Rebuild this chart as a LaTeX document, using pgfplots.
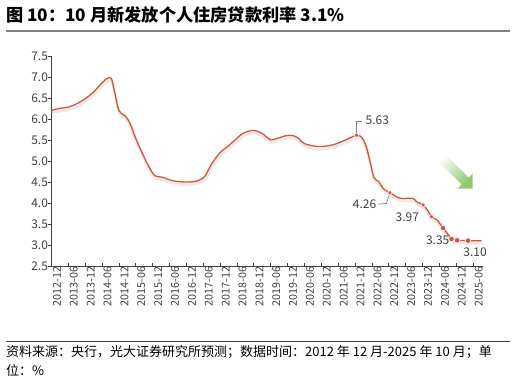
\documentclass[border=0pt]{standalone}
\usepackage{fontspec}
\setmainfont{Noto Sans CJK SC}
\usepackage{pgfplots}
\pgfplotsset{compat=1.18}
\definecolor{lineRed}{RGB}{217,84,56}
\definecolor{arrowGreen}{RGB}{140,200,110}
\definecolor{txtGray}{RGB}{64,64,64}
\begin{document}
\begin{tikzpicture}
\path[use as bounding box] (0,0) rectangle (516bp,-381bp);
% title
\node[anchor=west, font=\fontsize{17.2bp}{20bp}\selectfont\bfseries, inner sep=0pt] at (6bp,-15bp) {图 10：10 月新发放个人住房贷款利率 3.1\%};
\draw[black!50, line width=1.5bp] (6bp,-31bp) -- (510bp,-31bp);
\begin{axis}[
  at={(51.5bp,-266.7bp)}, anchor=south west,
  scale only axis, width=431.5bp, height=210bp,
  xmin=0, xmax=153.5, ymin=2.5, ymax=7.5,
  axis x line=bottom, axis y line=left,
  axis line style={-, draw=black!75, line width=1bp},
  tick style={draw=black!75, line width=0.8bp},
  tick align=inside, major tick length=3.5bp,
  y tick style={xshift=-3.5bp},
  xtick={0,6,...,150},
  xticklabels={2012-12,2013-06,2013-12,2014-06,2014-12,2015-06,2015-12,2016-06,2016-12,2017-06,2017-12,2018-06,2018-12,2019-06,2019-12,2020-06,2020-12,2021-06,2021-12,2022-06,2022-12,2023-06,2023-12,2024-06,2024-12,2025-06},
  xticklabel style={rotate=90, anchor=east, font=\fontsize{10.8bp}{12bp}\selectfont, text=txtGray, inner sep=0pt, yshift=-5.5bp},
  ytick={2.5,3,...,7.5},
  yticklabel style={/pgf/number format/fixed, /pgf/number format/precision=1, /pgf/number format/fixed zerofill, font=\fontsize{12bp}{13bp}\selectfont, text=txtGray},
  /pgf/number format/assume math mode=true,
  clip=false,
]
\pgfplotstableread{
m v
0 6.22
3 6.27
6 6.30
9 6.38
12 6.50
15 6.66
18 6.88
20 6.99
21.3 6.98
22.5 6.65
24 6.22
26.5 6.07
28 5.90
30 5.55
33 5.10
35.5 4.78
37 4.66
39.5 4.63
43 4.55
46.5 4.52
50 4.52
52.5 4.56
54.5 4.65
57 4.95
60 5.22
63 5.38
65 5.50
68 5.67
71 5.74
73 5.73
75 5.67
78 5.52
80.5 5.56
83.5 5.62
86 5.62
88 5.55
90 5.43
95 5.36
100 5.40
104 5.50
108.5 5.63
110.5 5.57
112 5.35
113.5 4.95
114.7 4.62
116.5 4.52
118 4.36
120.4 4.26
124 4.13
128.5 4.13
129.8 4.05
132.2 3.97
133.8 3.84
135.2 3.69
137.2 3.61
139.3 3.42
141.3 3.25
142.3 3.16
144.3 3.13
148.2 3.12
153 3.12
}\ratedata
\addplot[black!10, line width=3.2bp, smooth, no markers, opacity=0.8, yshift=-2.4bp, xshift=0.6bp] table[x=m,y=v] {\ratedata};
\addplot[lineRed, line width=1.3bp, smooth, no markers] table[x=m,y=v] {\ratedata};
\addplot[only marks, mark=*, mark size=2bp, mark options={fill=lineRed, draw=white, line width=0.5bp}] coordinates {(108.5,5.63) (120.4,4.26) (132.2,3.97) (135.2,3.69)};
\addplot[only marks, mark=*, mark size=2.7bp, mark options={fill=lineRed, draw=white, line width=0.5bp}] coordinates {(139.3,3.42) (142.3,3.16) (144.3,3.13) (148.2,3.12)};
% leader lines
\draw[black!50, line width=0.7bp] (axis cs:108.5,5.68) -- (axis cs:108.5,5.97) -- (axis cs:110.6,5.97);
\draw[black!50, line width=0.7bp] (axis cs:120.2,4.21) -- (axis cs:119.1,4.005) -- (axis cs:116.2,3.99);
\begin{scope}[font=\fontsize{12bp}{13bp}\selectfont, text=txtGray, inner sep=0pt]
\node[anchor=west] at (axis cs:111.7,5.976) {5.63};
\node[anchor=east] at (axis cs:115.6,3.99) {4.26};
\node at (axis cs:126.6,3.67) {3.97};
\node at (axis cs:137.4,3.14) {3.35};
\node at (axis cs:150.7,2.85) {3.10};
\end{scope}
\end{axis}
% green arrow
\shade[shading=axis, top color=white, bottom color=arrowGreen, shading angle=45]
 (436.5bp,-159.5bp) -- (443.5bp,-152.5bp) -- (468.5bp,-177.5bp) -- (472.5bp,-173.5bp) -- (472.5bp,-188.5bp) -- (457.5bp,-188.5bp) -- (461.5bp,-184.5bp) -- cycle;
% footer
\draw[black!75, line width=1bp] (6bp,-341.7bp) -- (510bp,-341.7bp);
\node[anchor=west, font=\fontsize{13bp}{16bp}\selectfont, inner sep=0pt] at (6bp,-352bp) {资料来源：央行，光大证券研究所预测；数据时间：2012 年 12 月-2025 年 10 月；单};
\node[anchor=west, font=\fontsize{13bp}{16bp}\selectfont, inner sep=0pt] at (6bp,-370bp) {位：\%};
\end{tikzpicture}
\end{document}
